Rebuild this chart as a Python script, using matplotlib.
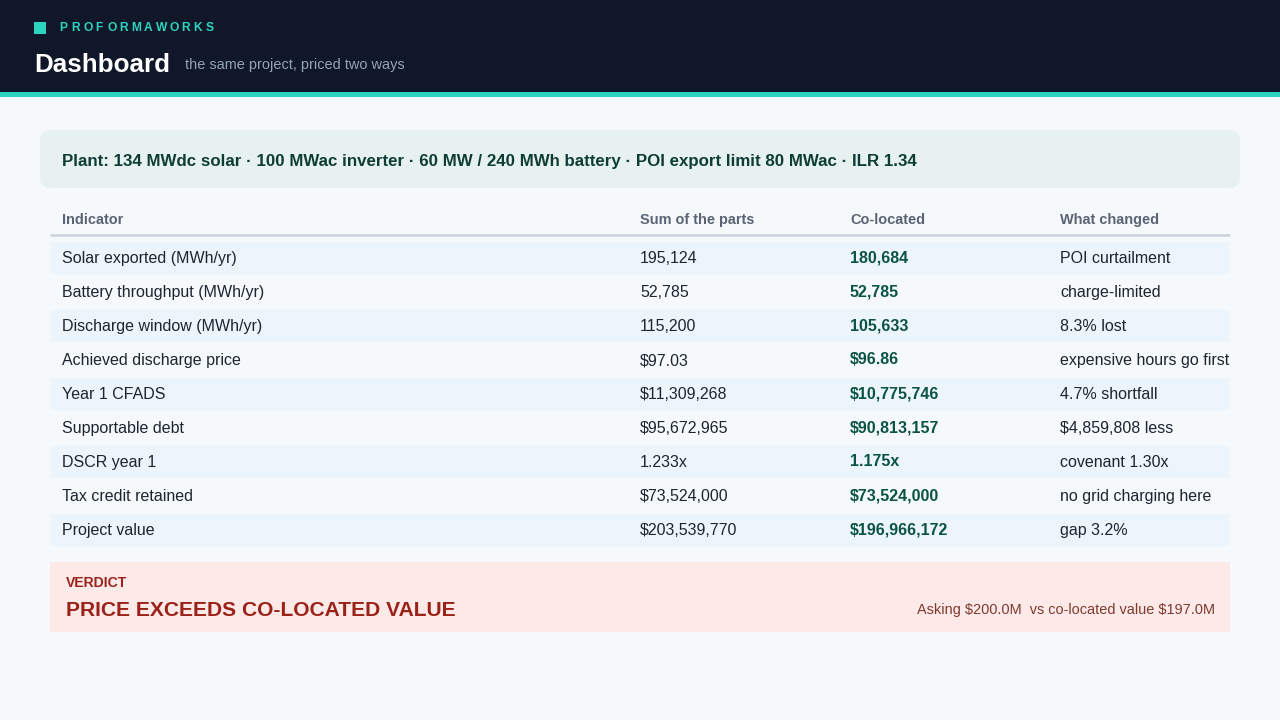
import matplotlib
matplotlib.use("Agg")
import matplotlib.pyplot as plt
from matplotlib.patches import Rectangle, FancyBboxPatch

plt.rcParams['font.family'] = ['Liberation Sans', 'DejaVu Sans']

brand = "PROFORMAWORKS"
title = "Dashboard"
subtitle = "the same project, priced two ways"
plant = "Plant: 134 MWdc solar · 100 MWac inverter · 60 MW / 240 MWh battery · POI export limit 80 MWac · ILR 1.34"
columns = ["Indicator", "Sum of the parts", "Co-located", "What changed"]
indicators = ["Solar exported (MWh/yr)", "Battery throughput (MWh/yr)", "Discharge window (MWh/yr)",
              "Achieved discharge price", "Year 1 CFADS", "Supportable debt", "DSCR year 1",
              "Tax credit retained", "Project value"]
sum_parts = ["195,124", "52,785", "115,200", "$97.03", "$11,309,268", "$95,672,965", "1.233x",
             "$73,524,000", "$203,539,770"]
co_located = ["180,684", "52,785", "105,633", "$96.86", "$10,775,746", "$90,813,157", "1.175x",
              "$73,524,000", "$196,966,172"]
what_changed = ["POI curtailment", "charge-limited", "8.3% lost", "expensive hours go first",
                "4.7% shortfall", "$4,859,808 less", "covenant 1.30x", "no grid charging here", "gap 3.2%"]
verdict_label = "VERDICT"
verdict = "PRICE EXCEEDS CO-LOCATED VALUE"
verdict_note = "Asking $200.0M  vs co-located value $197.0M"

W, H = 1280, 720
fig = plt.figure(figsize=(W / 100, H / 100), dpi=100)
ax = fig.add_axes([0, 0, 1, 1])
ax.set_xlim(0, W)
ax.set_ylim(H, 0)
ax.axis('off')
fig.patch.set_facecolor('#f5f9fc')

def px(p):
    return p * 0.72

def txt(x, y, s, size, color, bold=False, ha='left'):
    # y is the visual centre of capital letters; place baseline below it
    return ax.text(x, y + 0.36 * size, s, color=color, fontsize=px(size),
                   fontweight='bold' if bold else 'normal', va='baseline', ha=ha, parse_math=False)

# header
ax.add_patch(Rectangle((0, 0), W, 92, color='#0f1729', lw=0))
ax.add_patch(Rectangle((0, 92), W, 5, color='#2dd4bf', lw=0))
ax.add_patch(Rectangle((34, 22), 12, 12, color='#2dd4bf', lw=0))
x = 59
for ch in brand:
    txt(x, 27, ch, 12, '#2dd4bf', bold=True)
    x += 12.0 if ch not in "MW" else 13.2
txt(34, 63, title, 26, 'white', bold=True)
txt(185, 64, subtitle, 14.5, '#94a3b8')

# plant box
ax.add_patch(FancyBboxPatch((40, 130), 1200, 58, boxstyle="round,pad=0,rounding_size=10",
                            fc='#e7f2f0', ec='none'))
txt(62, 160, plant, 16.9, '#0f3d36', bold=True)

# table
col_x = [62, 640, 850, 1060]
for cx, c in zip(col_x, columns):
    txt(cx, 218.5, c, 14.5, '#5b6474', bold=True)
ax.plot([50, 1230], [235, 235], color='#cfd6de', lw=2, solid_capstyle='butt')

row0, pitch = 258, 34
for i in range(len(indicators)):
    y = row0 + i * pitch
    if i % 2 == 0:
        ax.add_patch(Rectangle((50, y - 16), 1180, 32, color='#edf5fc', lw=0))
    txt(col_x[0], y - 0.5, indicators[i], 16, '#1e2430')
    txt(col_x[1], y - 0.5, sum_parts[i], 16, '#1e2430')
    txt(col_x[2], y - 1.5, co_located[i], 16, '#0b5345', bold=True)
    txt(col_x[3], y - 0.5, what_changed[i], 16, '#1e2430')

# verdict
ax.add_patch(Rectangle((50, 562), 1180, 70, color='#fdeae8', lw=0))
txt(66, 582, verdict_label, 14, '#9b2218', bold=True)
txt(66, 608.5, verdict, 21, '#9b2218', bold=True)
txt(1215, 608.5, verdict_note, 14.5, '#7f3a30', ha='right')

fig.savefig('out.png', dpi=100, facecolor=fig.get_facecolor())
